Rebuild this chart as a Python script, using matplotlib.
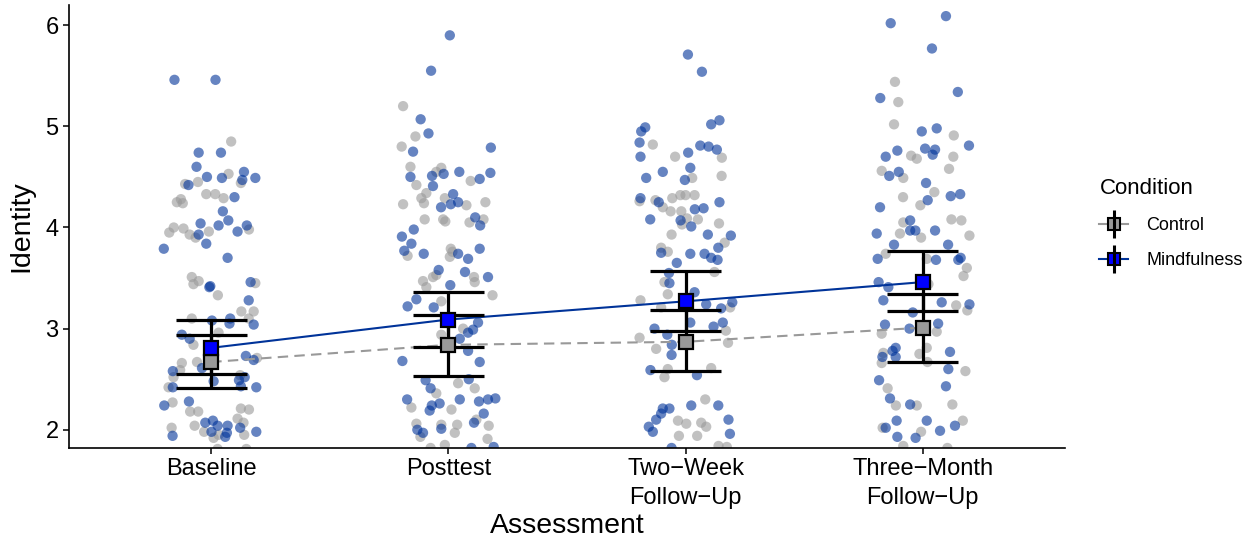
import matplotlib
matplotlib.use("Agg")
import matplotlib.pyplot as plt
from matplotlib.lines import Line2D
from matplotlib.legend_handler import HandlerTuple
import numpy as np

plt.rcParams['font.family'] = ['Liberation Sans', 'DejaVu Sans']

categories = ["Baseline", "Posttest", "Two\u2212Week\nFollow\u2212Up", "Three\u2212Month\nFollow\u2212Up"]
conditions = ["Control", "Mindfulness"]

# Means and 95% CIs
ctrl_mean = [2.67, 2.84, 2.87, 3.01]
ctrl_low = [2.41, 2.53, 2.58, 2.67]
ctrl_high = [2.94, 3.13, 3.18, 3.34]
mind_mean = [2.81, 3.09, 3.27, 3.46]
mind_low = [2.55, 2.82, 2.98, 3.17]
mind_high = [3.09, 3.36, 3.57, 3.77]

base_ctrl = [(0.084,4.85),(0.073,4.53),(-0.110,4.43),(-0.056,4.45),(0.125,4.44),(-0.021,4.33),(0.017,4.33),(0.052,4.29),
             (-0.145,4.25),(-0.128,4.28),(-0.120,4.24),(-0.177,3.95),(-0.158,4.00),(-0.117,3.99),(-0.091,3.93),(-0.066,3.90),
             (-0.010,3.96),(0.159,3.98),(-0.082,3.51),(-0.075,3.44),(-0.053,3.47),(0.028,3.33),(0.186,3.45),(0.127,3.17),
             (0.179,3.17),(-0.082,3.10),(0.158,3.10),(0.031,2.96),(-0.075,2.84),(0.193,2.71),(-0.124,2.66),(-0.060,2.67),
             (-0.159,2.52),(-0.131,2.59),(0.122,2.54),(-0.180,2.42),(-0.163,2.27),(-0.089,2.18),(-0.055,2.18),(0.125,2.21),
             (0.159,2.20),(-0.070,2.04),(0.111,2.11),(0.136,2.07),(-0.030,1.98),(0.031,1.95),(-0.167,2.02),(0.139,1.95),
             (0.010,1.92),(0.027,1.81),(0.148,1.81)]
base_mind = [(-0.155,5.46),(0.018,5.46),(-0.053,4.74),(0.041,4.74),(-0.062,4.60),(0.138,4.55),(-0.018,4.50),(0.045,4.49),
             (0.131,4.47),(0.186,4.49),(-0.096,4.42),(0.098,4.30),(0.049,4.16),(-0.045,4.04),(0.072,4.07),(0.031,4.02),
             (-0.053,3.93),(0.111,3.96),(0.150,4.02),(-0.200,3.79),(-0.021,3.84),(0.069,3.70),(-0.008,3.41),(-0.004,3.42),
             (0.166,3.46),(0.158,3.28),(0.003,3.08),(0.080,3.10),(0.077,3.05),(0.179,3.04),(-0.124,2.94),(-0.091,2.90),
             (0.146,2.73),(0.179,2.69),(-0.039,2.61),(-0.162,2.58),(0.010,2.48),(0.141,2.52),(0.117,2.49),(-0.162,2.42),
             (0.190,2.42),(0.125,2.43),(-0.198,2.24),(-0.094,2.28),(-0.025,2.07),(0.007,2.09),(0.027,2.04),(0.069,2.04),
             (0.122,2.02),(0.001,1.98),(0.066,1.97),(0.059,1.93),(-0.163,1.94),(0.190,1.98)]
post_ctrl = [(-0.191,5.20),(-0.139,4.90),(-0.197,4.80),(-0.160,4.60),(-0.135,4.42),(-0.051,4.55),(-0.030,4.59),(0.094,4.46),
             (-0.093,4.34),(-0.114,4.29),(-0.103,4.24),(-0.191,4.23),(-0.015,4.29),(0.076,4.22),(0.156,4.25),(-0.100,4.08),
             (-0.022,4.08),(-0.013,4.06),(0.089,4.05),(0.148,4.08),(-0.172,3.72),(0.010,3.79),(0.006,3.71),(0.017,3.76),
             (-0.107,3.47),(-0.093,3.41),(-0.065,3.51),(-0.051,3.53),(0.108,3.51),(0.111,3.46),(0.186,3.33),(-0.030,3.27),
             (0.062,3.00),(-0.030,2.94),(0.041,2.46),(0.111,2.41),(-0.051,2.36),(-0.156,2.22),(0.013,2.20),(0.118,2.10),
             (-0.135,2.06),(-0.118,1.93),(-0.030,2.05),(0.037,2.05),(0.027,1.97),(0.170,2.04),(0.165,1.91),(-0.075,1.82),
             (-0.015,1.85)]
post_mind = [(0.006,5.90),(-0.073,5.55),(-0.117,5.07),(-0.084,4.93),(-0.149,4.75),(0.179,4.79),(-0.160,4.50),(-0.069,4.51),
             (-0.020,4.53),(-0.065,4.41),(0.046,4.55),(0.132,4.48),(0.177,4.54),(0.020,4.33),(0.010,4.23),(0.041,4.25),
             (-0.031,4.20),(0.113,4.10),(0.134,4.02),(-0.146,3.98),(-0.196,3.91),(-0.156,3.84),(-0.186,3.77),(-0.104,3.74),
             (0.041,3.74),(0.083,3.69),(0.132,3.79),(-0.041,3.58),(0.070,3.56),(0.167,3.51),(0.008,3.43),(-0.135,3.29),
             (-0.172,3.22),(-0.062,3.21),(0.125,3.06),(0.104,2.99),(0.083,2.96),(0.048,2.90),(0.083,2.78),(-0.194,2.68),
             (0.132,2.67),(-0.096,2.49),(-0.075,2.41),(0.086,2.50),(-0.174,2.30),(-0.037,2.26),(-0.070,2.24),(-0.079,2.19),
             (0.048,2.30),(0.129,2.28),(0.167,2.30),(0.198,2.31),(0.149,2.16),(0.108,2.07),(-0.131,2.00),(-0.107,1.97),
             (-0.030,2.01),(0.097,1.82),(0.191,1.83)]
twow_ctrl = [(-0.138,4.82),(-0.044,4.70),(0.153,4.69),(0.028,4.49),(0.152,4.51),(-0.194,4.26),(-0.127,4.27),(-0.096,4.20),
             (-0.063,4.16),(-0.056,4.29),(-0.022,4.32),(0.000,4.32),(0.038,4.32),(-0.018,4.16),(0.006,4.09),(-0.015,4.03),
             (0.052,4.08),(0.141,4.04),(-0.059,3.93),(0.165,3.85),(-0.103,3.80),(-0.075,3.76),(0.122,3.56),(-0.089,3.46),
             (-0.075,3.34),(-0.190,3.28),(0.188,3.21),(-0.103,3.21),(0.170,2.98),(0.179,2.86),(-0.194,2.91),(-0.124,2.80),
             (-0.075,2.60),(-0.089,2.52),(0.108,2.61),(0.083,2.30),(-0.032,2.09),(0.003,2.06),(0.066,2.07),(0.087,2.03),
             (-0.028,1.94),(0.049,1.94),(0.139,1.84),(0.174,1.83)]
twow_mind = [(0.010,5.71),(0.069,5.54),(-0.170,4.99),(-0.187,4.95),(-0.194,4.84),(0.108,5.02),(0.143,5.06),(0.062,4.81),
             (0.097,4.80),(0.132,4.77),(-0.190,4.70),(0.011,4.74),(-0.166,4.49),(-0.096,4.55),(0.020,4.59),(-0.003,4.47),
             (-0.190,4.29),(-0.113,4.25),(0.039,4.18),(0.076,4.19),(0.143,4.25),(-0.149,4.08),(-0.021,4.07),(0.024,4.01),
             (0.094,3.93),(0.191,3.92),(0.138,3.80),(-0.103,3.75),(0.020,3.74),(-0.037,3.65),(0.080,3.74),(0.108,3.70),
             (0.135,3.68),(-0.070,3.55),(-0.068,3.45),(0.038,3.36),(0.087,3.24),(0.150,3.20),(0.197,3.26),(0.020,3.06),
             (0.157,3.06),(0.118,3.02),(-0.131,3.00),(-0.077,2.94),(-0.058,2.84),(-0.059,2.74),(-0.148,2.59),(0.048,2.54),
             (0.024,2.24),(0.138,2.24),(-0.096,2.21),(-0.068,2.21),(-0.103,2.16),(-0.124,2.10),(-0.155,2.03),(-0.138,1.98),
             (0.181,2.10),(0.187,1.96),(-0.059,1.82)]
thrm_ctrl = [(-0.117,5.44),(-0.103,5.24),(-0.121,5.02),(0.131,4.91),(-0.049,4.71),(-0.025,4.68),(0.129,4.70),(-0.173,4.56),
             (-0.082,4.49),(0.111,4.58),(0.049,4.35),(-0.083,4.30),(-0.010,4.22),(-0.082,4.05),(0.121,4.08),(0.163,4.07),
             (-0.096,3.94),(-0.007,3.90),(0.197,3.92),(-0.156,3.74),(0.017,3.69),(0.186,3.60),(0.172,3.52),(0.024,3.44),
             (0.141,3.23),(0.188,3.18),(-0.173,2.95),(0.059,2.97),(0.017,2.81),(-0.166,2.76),(-0.173,2.66),(-0.014,2.75),
             (0.020,2.67),(0.180,2.58),(-0.148,2.41),(-0.113,2.24),(-0.025,2.24),(0.125,2.25),(0.169,2.09),(-0.169,2.02),
             (-0.007,1.98),(-0.082,1.84),(0.104,1.82)]
thrm_mind = [(-0.135,6.02),(0.098,6.09),(0.039,5.77),(-0.179,5.28),(0.148,5.34),(-0.004,4.95),(0.059,4.98),(0.195,4.81),
             (-0.107,4.76),(-0.156,4.70),(0.010,4.78),(0.052,4.77),(0.042,4.72),(-0.141,4.51),(-0.101,4.55),(0.014,4.44),
             (0.021,4.27),(0.118,4.31),(0.158,4.33),(-0.180,4.20),(-0.053,4.07),(-0.194,3.94),(-0.053,3.97),(-0.031,3.97),
             (0.052,3.97),(-0.121,3.83),(-0.190,3.69),(0.107,3.83),(0.056,3.68),(0.160,3.70),(0.150,3.68),(-0.186,3.46),
             (-0.145,3.41),(-0.166,3.28),(0.080,3.26),(0.197,3.24),(-0.042,3.16),(-0.159,3.04),(0.065,3.05),(-0.056,3.00),
             (-0.114,2.81),(-0.127,2.78),(-0.170,2.72),(-0.114,2.72),(0.115,2.77),(0.108,2.60),(-0.184,2.49),(0.098,2.43),
             (-0.138,2.31),(-0.053,2.25),(-0.110,2.09),(0.017,2.09),(-0.156,2.02),(0.136,2.04),(0.073,1.99),(-0.107,1.93),
             (-0.030,1.92)]

ctrl_raw = [base_ctrl, post_ctrl, twow_ctrl, thrm_ctrl]
mind_raw = [base_mind, post_mind, twow_mind, thrm_mind]

fig = plt.figure(figsize=(12.58, 5.43), dpi=100)
ax = fig.add_axes([0.0548, 0.175, 0.7918, 0.8158])

xpos = np.arange(1, len(categories) + 1)

for raw, col in [(ctrl_raw, '#999999'), (mind_raw, '#003399')]:
    for i, grp in enumerate(raw):
        arr = np.array(grp)
        ax.scatter(xpos[i] + arr[:, 0], arr[:, 1], s=55, color=col, alpha=0.6,
                   edgecolors='none', zorder=2)

ax.plot(xpos, ctrl_mean, color='#999999', lw=1.5, ls=(0, (5, 3)), zorder=3)
ax.plot(xpos, mind_mean, color='#003399', lw=1.5, zorder=3)

for mean, lo, hi in [(ctrl_mean, ctrl_low, ctrl_high), (mind_mean, mind_low, mind_high)]:
    mean = np.array(mean)
    ax.errorbar(xpos, mean, yerr=[mean - np.array(lo), np.array(hi) - mean], fmt='none',
                ecolor='black', elinewidth=2.3, capsize=0, zorder=4)
    ax.hlines(lo, xpos - 0.15, xpos + 0.15, color='black', lw=2.3, zorder=4)
    ax.hlines(hi, xpos - 0.15, xpos + 0.15, color='black', lw=2.3, zorder=4)

ax.plot(xpos, ctrl_mean, ls='none', marker='s', ms=10.5, mfc='#999999', mec='black', mew=1.6, zorder=5)
ax.plot(xpos, mind_mean, ls='none', marker='s', ms=10.5, mfc='#0000FF', mec='black', mew=1.6, zorder=5)

ax.set_xlim(0.4, 4.6)
ax.set_ylim(1.82, 6.2)
ax.set_yticks([2, 3, 4, 5, 6])
ax.set_xticks(xpos)
ax.set_xticklabels(categories, fontsize=17, linespacing=1.38)
ax.tick_params(axis='y', labelsize=17, length=4, width=1.1, color='black')
ax.tick_params(axis='x', length=4, width=1.1, color='black')
for s in ['top', 'right']:
    ax.spines[s].set_visible(False)
for s in ['left', 'bottom']:
    ax.spines[s].set_linewidth(1.2)
ax.set_xlabel("Assessment", fontsize=20.5, labelpad=3)
ax.set_ylabel("Identity", fontsize=20.5, labelpad=8)

def key(col, fill):
    v = Line2D([], [], ls='none', marker='|', ms=20, mew=2.2, color='black')
    h = Line2D([], [], color=col, lw=1.5, marker='s', ms=9, mfc=fill, mec='black', mew=1.5)
    return (h, v)

handles = [key('#999999', '#999999'), key('#003399', '#0000FF')]
leg = fig.legend(handles, conditions, title="Condition", loc='upper left',
                 bbox_to_anchor=(0.861, 0.702), frameon=False, fontsize=13,
                 title_fontsize=16, handlelength=1.6, handletextpad=1.0,
                 labelspacing=1.0, handler_map={tuple: HandlerTuple(ndivide=1)})
leg._legend_box.align = "left"

fig.savefig("out.png", dpi=100)
